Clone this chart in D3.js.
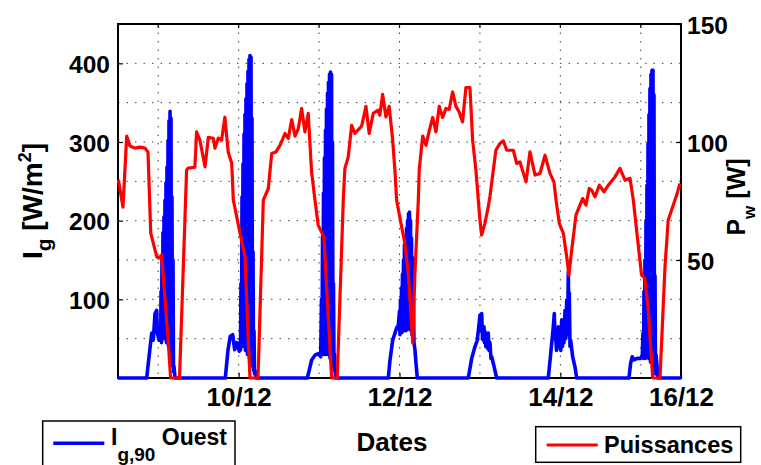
<!DOCTYPE html>
<html>
<head>
<meta charset="utf-8">
<script src="https://cdn.jsdelivr.net/npm/d3@7"></script>
<style>
  html, body { margin: 0; padding: 0; background: #fff; }
  svg { display: block; font-family: "Liberation Sans", Arial, Helvetica, sans-serif; font-weight: bold; }
</style>
</head>
<body>
<svg id="chart" width="761" height="465"></svg>
<script>
// Irradiance on the west facade, [day of December, W/m²]
const irradiance = [
  [8.500, 0], [8.857, 0], [8.877, 19], [8.898, 38], [8.919, 57], [8.939, 48], [8.960, 82], [8.981, 86],
  [8.989, 57], [9.010, 48], [9.031, 52],
  [9.035, 110], [9.041, 45], [9.047, 150], [9.053, 55], [9.059, 185], [9.066, 60], [9.072, 205], [9.078, 50],
  [9.084, 226], [9.091, 70], [9.097, 248], [9.103, 45], [9.109, 268], [9.115, 60], [9.122, 302], [9.128, 40],
  [9.134, 327], [9.140, 35], [9.147, 339], [9.153, 30], [9.159, 330], [9.165, 20], [9.171, 230], [9.178, 15],
  [9.184, 150], [9.190, 8], [9.196, 15], [9.209, 0],
  [9.834, 0], [9.868, 36], [9.896, 53], [9.926, 55], [9.951, 36], [9.980, 45], [10.008, 34], [10.023, 36],
  [10.029, 120], [10.036, 40], [10.042, 230], [10.048, 45], [10.054, 272], [10.060, 40], [10.067, 310], [10.073, 50],
  [10.079, 335], [10.085, 35], [10.091, 355], [10.098, 45], [10.104, 374], [10.110, 30], [10.116, 390], [10.123, 40],
  [10.129, 405], [10.135, 25], [10.141, 410], [10.147, 30], [10.154, 408], [10.160, 20], [10.166, 330], [10.172, 15],
  [10.179, 160], [10.185, 10], [10.191, 60], [10.197, 5], [10.203, 10], [10.216, 0],
  [10.854, 0], [10.878, 10], [10.908, 23], [10.949, 29], [10.990, 31], [11.020, 27],
  [11.030, 100], [11.036, 30], [11.043, 180], [11.049, 35], [11.055, 235], [11.061, 30], [11.067, 280], [11.074, 40],
  [11.080, 315], [11.086, 30], [11.092, 342], [11.099, 45], [11.105, 362], [11.111, 30], [11.117, 376], [11.123, 35],
  [11.130, 386], [11.136, 25], [11.142, 389], [11.148, 30], [11.155, 386], [11.161, 20], [11.167, 300], [11.173, 15],
  [11.179, 120], [11.186, 10], [11.192, 30], [11.204, 0],
  [11.861, 0], [11.882, 23], [11.915, 48], [11.944, 57], [11.965, 64], [11.985, 67],
  [12.000, 85], [12.006, 55], [12.012, 99], [12.019, 60], [12.025, 115], [12.031, 58], [12.037, 132], [12.044, 62],
  [12.050, 150], [12.056, 60], [12.062, 170], [12.068, 65], [12.075, 180], [12.081, 60], [12.087, 190], [12.093, 70],
  [12.100, 200], [12.106, 62], [12.112, 209], [12.118, 70], [12.124, 211], [12.131, 65], [12.137, 200], [12.143, 60],
  [12.149, 178], [12.156, 55], [12.162, 153], [12.168, 50], [12.174, 100], [12.180, 45], [12.193, 35], [12.205, 19],
  [12.221, 0],
  [12.855, 0], [12.898, 25], [12.939, 40], [12.967, 48], [12.982, 62], [13.001, 80], [13.013, 60], [13.022, 82],
  [13.032, 50], [13.042, 48], [13.051, 65], [13.057, 45], [13.063, 59], [13.073, 40], [13.084, 55], [13.094, 38],
  [13.104, 57], [13.113, 35], [13.125, 45], [13.137, 25], [13.146, 27], [13.175, 15], [13.208, 0],
  [13.850, 0], [13.880, 31], [13.912, 65], [13.925, 82], [13.933, 50], [13.942, 53], [13.952, 35], [13.962, 40],
  [13.974, 65], [13.983, 40], [13.995, 55], [14.005, 35], [14.017, 74], [14.026, 40], [14.036, 60], [14.045, 45],
  [14.058, 86], [14.068, 50], [14.079, 99], [14.089, 55], [14.099, 135], [14.107, 60], [14.111, 108], [14.120, 40],
  [14.128, 48], [14.153, 27], [14.182, 14], [14.203, 0],
  [14.853, 0], [14.874, 19], [14.894, 27], [14.915, 23], [14.956, 25], [14.999, 25], [15.019, 29],
  [15.027, 57], [15.034, 25], [15.040, 110], [15.046, 30], [15.052, 150], [15.058, 25], [15.065, 200], [15.071, 35],
  [15.077, 245], [15.083, 30], [15.090, 298], [15.096, 25], [15.102, 335], [15.108, 30], [15.114, 368], [15.121, 20],
  [15.127, 386], [15.133, 25], [15.139, 391], [15.146, 20], [15.152, 391], [15.158, 15], [15.164, 360], [15.170, 10],
  [15.177, 130], [15.183, 5], [15.189, 30], [15.202, 15], [15.214, 0],
  [15.500, 0]
];

// Power, [day of December, W]
const power = [
  [8.505, 84.0], [8.562, 72.4], [8.608, 102.5], [8.649, 98.3], [8.711, 97.4], [8.774, 97.8], [8.836, 97.4],
  [8.873, 95.7], [8.907, 61.4], [8.982, 51.4], [9.004, 50.8], [9.042, 52.1], [9.124, 16.1], [9.154, 0],
  [9.265, 0], [9.353, 88.1], [9.373, 88.9], [9.456, 89.3], [9.477, 104.3], [9.518, 100.8], [9.582, 89.5],
  [9.623, 102.0], [9.685, 101.6], [9.705, 97.4], [9.747, 101.6], [9.788, 100.8], [9.829, 110.5], [9.870, 95.8],
  [9.914, 91.0], [9.934, 75.4], [10.017, 61.4], [10.079, 51.4], [10.120, 16.1], [10.141, 0],
  [10.241, 0], [10.307, 75.4], [10.369, 80.3], [10.411, 95.1], [10.464, 95.8], [10.514, 98.6], [10.576, 103.6],
  [10.617, 101.5], [10.660, 109.5], [10.701, 102.5], [10.742, 105.7], [10.783, 114.2], [10.824, 104.3],
  [10.865, 112.1], [10.907, 87.3], [10.949, 75.4], [10.989, 64.8], [11.060, 59.8], [11.156, 0],
  [11.226, 0], [11.301, 75.4], [11.321, 88.8], [11.363, 93.7], [11.405, 107.1], [11.445, 103.6], [11.529, 106.7],
  [11.583, 115.1], [11.623, 103.6], [11.673, 112.1], [11.735, 113.5], [11.756, 111.3], [11.790, 120.2],
  [11.831, 110.6], [11.872, 115.1], [11.915, 100.8], [11.943, 88.1], [11.964, 75.4], [12.026, 64.1],
  [12.067, 57.0], [12.109, 44.5], [12.164, 14.9], [12.192, 44.5], [12.234, 75.4], [12.245, 88.1],
  [12.288, 102.5], [12.329, 98.6], [12.370, 104.8], [12.413, 110.4], [12.453, 104.3], [12.494, 115.1],
  [12.536, 110.4], [12.577, 114.2], [12.618, 113.8], [12.660, 121.2], [12.701, 115.1], [12.742, 112.7],
  [12.784, 108.5], [12.826, 123.1], [12.876, 123.1], [12.909, 100.8], [12.950, 88.1], [13.000, 66.9],
  [13.021, 60.6], [13.062, 65.5], [13.103, 72.5], [13.124, 76.8], [13.198, 96.5], [13.249, 99.4],
  [13.290, 100.5], [13.333, 96.5], [13.415, 96.5], [13.457, 90.9], [13.497, 91.6], [13.573, 83.1],
  [13.622, 95.8], [13.685, 86.0], [13.747, 86.7], [13.809, 94.4], [13.871, 86.7], [13.921, 83.1],
  [13.946, 75.4], [13.987, 65.5], [14.037, 61.3], [14.079, 51.4], [14.107, 43.6], [14.141, 54.2],
  [14.194, 69.0], [14.235, 72.5], [14.278, 76.1], [14.318, 73.3], [14.359, 80.3], [14.389, 79.6],
  [14.431, 76.8], [14.484, 81.7], [14.542, 78.9], [14.596, 81.7], [14.679, 85.2], [14.741, 88.8],
  [14.804, 83.8], [14.866, 84.6], [14.907, 75.4], [14.948, 62.7], [15.010, 43.6], [15.051, 42.2],
  [15.093, 28.8], [15.148, 0], [15.239, 0], [15.301, 47.1], [15.341, 66.9], [15.396, 72.5],
  [15.446, 77.5], [15.487, 82.4]
];

// Axis ticks and labels
const dayDomain = [8.5, 15.5];
const dateTicks = [10, 12, 14, 15.5];
const dateLabels = ["10/12", "12/12", "14/12", "16/12"];
const dayGrid = [9, 10, 11, 12, 13, 14, 15];
const irradianceDomain = [0, 450];
const irradianceTicks = [100, 200, 300, 400];
const irradianceGrid = [50, 100, 150, 200, 250, 300, 350, 400];
const powerDomain = [0, 150];
const powerTicks = [50, 100, 150];

const frame = { left: 118, right: 681, top: 24, bottom: 378 };
const svg = d3.select("#chart");

const x = d3.scaleLinear().domain(dayDomain).range([frame.left, frame.right]);
const yI = d3.scaleLinear().domain(irradianceDomain).range([frame.bottom, frame.top]);
const yP = d3.scaleLinear().domain(powerDomain).range([frame.bottom, frame.top]);

// dotted grid
const grid = svg.append("g")
  .attr("stroke", "#444")
  .attr("stroke-width", 1)
  .attr("stroke-dasharray", "1.5,7");
grid.selectAll("line.v").data(dayGrid).join("line")
  .attr("class", "v")
  .attr("x1", d => x(d)).attr("x2", d => x(d))
  .attr("y1", frame.top).attr("y2", frame.bottom);
grid.selectAll("line.h").data(irradianceGrid).join("line")
  .attr("class", "h")
  .attr("x1", frame.left).attr("x2", frame.right)
  .attr("y1", d => yI(d)).attr("y2", d => yI(d));

// plot frame
svg.append("rect")
  .attr("x", frame.left).attr("y", frame.top)
  .attr("width", frame.right - frame.left).attr("height", frame.bottom - frame.top)
  .attr("fill", "none").attr("stroke", "#000").attr("stroke-width", 2);

// small inward ticks along the top edge
const tickLen = 4;
svg.append("g").attr("stroke", "#000").attr("stroke-width", 1.2)
  .selectAll("line").data(dayGrid).join("line")
  .attr("x1", d => x(d)).attr("x2", d => x(d))
  .attr("y1", frame.top).attr("y2", frame.top + tickLen);

// axes
const axisLeft = d3.axisLeft(yI).tickValues(irradianceTicks).tickSize(-5).tickPadding(8);
const gL = svg.append("g").attr("transform", `translate(${frame.left},0)`).call(axisLeft);

const axisRight = d3.axisRight(yP).tickValues(powerTicks).tickSize(-5).tickPadding(6);
const gR = svg.append("g").attr("transform", `translate(${frame.right},0)`).call(axisRight);

const axisBottom = d3.axisBottom(x).tickValues(dateTicks)
  .tickFormat((d, i) => dateLabels[i]).tickSize(-5).tickPadding(10);
const gB = svg.append("g").attr("transform", `translate(0,${frame.bottom})`).call(axisBottom);

[gL, gR, gB].forEach(g => {
  g.select(".domain").remove();
  g.selectAll(".tick line").attr("stroke", "#000").attr("stroke-width", 1.2);
  g.selectAll(".tick text")
    .attr("fill", "#000")
    .style("font-family", '"Liberation Sans", Arial, sans-serif')
    .style("font-weight", "bold");
});
gL.selectAll(".tick text").style("font-size", "24.5px").attr("dy", "0.37em");
gR.selectAll(".tick text").style("font-size", "24.5px").attr("dy", "0.37em");
gB.selectAll(".tick text").style("font-size", "26px");

// series
const lineI = d3.line().x(d => x(d[0])).y(d => yI(d[1]));
const lineP = d3.line().x(d => x(d[0])).y(d => yP(d[1]));

svg.append("path").datum(irradiance)
  .attr("d", lineI)
  .attr("fill", "none").attr("stroke", "#0000ff")
  .attr("stroke-width", 3.6).attr("stroke-linejoin", "round");

svg.append("path").datum(power)
  .attr("d", lineP)
  .attr("fill", "none").attr("stroke", "#ff0000")
  .attr("stroke-width", 3.2).attr("stroke-linejoin", "round");

// axis titles
const tL = svg.append("text")
  .attr("transform", "translate(42,201) rotate(-90)")
  .attr("text-anchor", "middle").attr("font-size", 28);
tL.append("tspan").text("I");
tL.append("tspan").attr("font-size", 21).attr("dy", 9).text("g");
tL.append("tspan").attr("dy", -9).text(" [W/m");
tL.append("tspan").attr("font-size", 18).attr("dy", -11).text("2");
tL.append("tspan").attr("dy", 11).text("]");

const tR = svg.append("text")
  .attr("transform", "translate(745,197) rotate(-90)")
  .attr("text-anchor", "middle").attr("font-size", 25);
tR.append("tspan").text("P");
tR.append("tspan").attr("font-size", 17).attr("dy", 10).text("w");
tR.append("tspan").attr("dy", -10).text(" [W]");

svg.append("text")
  .attr("x", 392).attr("y", 450.5)
  .attr("text-anchor", "middle").attr("font-size", 26)
  .text("Dates");

// legends
const legI = svg.append("g");
legI.append("rect").attr("x", 42.7).attr("y", 421).attr("width", 192.3).attr("height", 60)
  .attr("fill", "#fff").attr("stroke", "#000").attr("stroke-width", 1.5);
legI.append("line").attr("x1", 53.3).attr("x2", 104.3).attr("y1", 443.3).attr("y2", 443.3)
  .attr("stroke", "#0000ff").attr("stroke-width", 3.6);
const legIText = legI.append("text").attr("x", 111).attr("y", 445).attr("font-size", 23);
legIText.append("tspan").text("I");
legIText.append("tspan").attr("font-size", 19).attr("dy", 16).text("g,90");
legIText.append("tspan").attr("dy", -16).text(" Ouest");

const legP = svg.append("g");
legP.append("rect").attr("x", 535.7).attr("y", 426.7).attr("width", 205).attr("height", 35.6)
  .attr("fill", "#fff").attr("stroke", "#000").attr("stroke-width", 1.5);
legP.append("line").attr("x1", 546.7).attr("x2", 597.7).attr("y1", 445).attr("y2", 445)
  .attr("stroke", "#ff0000").attr("stroke-width", 3.2);
legP.append("text").attr("x", 604).attr("y", 453.3).attr("font-size", 23.5).text("Puissances");
</script>
</body>
</html>
